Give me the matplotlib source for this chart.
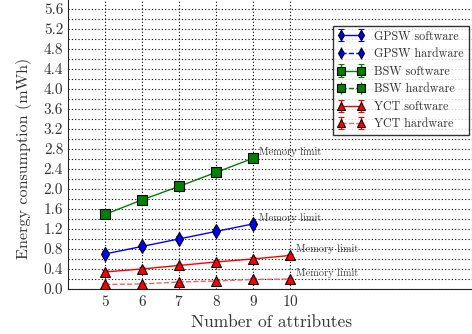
import matplotlib
matplotlib.use("Agg")
import matplotlib.pyplot as plt
from matplotlib.ticker import MultipleLocator, FormatStrFormatter

plt.rcParams['font.family'] = ['cmr10', 'DejaVu Serif']
plt.rcParams['mathtext.fontset'] = 'cm'
plt.rcParams['axes.formatter.use_mathtext'] = True

attributes = [5, 6, 7, 8, 9, 10]

gpsw_sw = [0.70, 0.85, 1.00, 1.15, 1.30]
gpsw_sw_err = [0.05, 0.05, 0.05, 0.05, 0.05]
gpsw_hw = []
gpsw_hw_err = []

bsw_sw = [1.49, 1.78, 2.05, 2.33, 2.61]
bsw_sw_err = [0.03, 0.03, 0.03, 0.03, 0.03]
bsw_hw = []
bsw_hw_err = []

yct_sw = [0.34, 0.40, 0.47, 0.54, 0.60, 0.67]
yct_sw_err = [0.03, 0.03, 0.03, 0.03, 0.03, 0.03]
yct_hw = [0.09, 0.10, 0.14, 0.16, 0.19, 0.20]
yct_hw_err = [0.02, 0.02, 0.02, 0.02, 0.02, 0.02]

annot_text = "Memory limit"

fig = plt.figure(figsize=(4.72, 3.34), dpi=100)
ax = fig.add_axes([68 / 472, 45 / 334, 407 / 472, 289 / 334 + 0.004])

def series(vals, errs, label, color, marker, ls, ms, lcolor=None):
    xs = attributes[:len(vals)]
    ax.errorbar(xs, vals, yerr=errs, label=label, color=lcolor or color,
                ecolor=color, marker=marker, linestyle=ls, markersize=ms,
                markerfacecolor=color, markeredgecolor='black',
                markeredgewidth=0.8, capsize=2.5, elinewidth=1.0,
                linewidth=1.0, zorder=3)

series(gpsw_sw, gpsw_sw_err, "GPSW software", 'blue', 'd', '-', 7)
series(gpsw_hw, gpsw_hw_err, "GPSW hardware", 'blue', 'd', '--', 7)
series(bsw_sw, bsw_sw_err, "BSW software", 'green', 's', '-', 6.5)
series(bsw_hw, bsw_hw_err, "BSW hardware", 'green', 's', '--', 6.5)
series(yct_sw, yct_sw_err, "YCT software", 'red', '^', '-', 6.5)
series(yct_hw, yct_hw_err, "YCT hardware", 'red', '^', '--', 6.5, '#ff6060')

# memory-limit notes at the last point each method could handle
for vals in (bsw_sw, gpsw_sw, yct_sw, yct_hw):
    x = attributes[len(vals) - 1]
    ax.annotate(annot_text, (x, vals[-1]), xytext=(4, 4.5),
                textcoords='offset points', fontsize=7.5, color='#444444',
                va='center', ha='left')

ax.set_xlim(4, 15)
ax.set_ylim(0, 5.8)
ax.set_xticks(attributes)
ax.yaxis.set_major_locator(MultipleLocator(0.4))
ax.yaxis.set_minor_locator(MultipleLocator(0.2))
ax.yaxis.set_major_formatter(FormatStrFormatter('%.1f'))
ax.grid(True, which='major', linestyle=(0, (1, 2)), color='black', linewidth=0.8)
ax.grid(True, which='minor', axis='y', linestyle=(0, (1, 2)), color='black',
        linewidth=0.8)
ax.tick_params(axis='both', which='major', labelsize=11, labelcolor='#333333',
               direction='in', length=0)
ax.tick_params(axis='both', which='minor', length=0)
for s in ax.spines.values():
    s.set_color('#222222')

ax.set_xlabel("Number of attributes", fontsize=12.5, color='#333333')
ax.set_ylabel("Energy consumption (mWh)", fontsize=11.6, color='#333333')
ax.yaxis.set_label_coords(-0.088, 0.45)

leg = ax.legend(loc='upper left', bbox_to_anchor=((333 - 68) / 407, 1 - 27 / 290),
                fontsize=8.7, frameon=True, fancybox=False, borderaxespad=0,
                handlelength=2.2, labelspacing=0.45, numpoints=2,
                markerscale=0.8)
leg.get_frame().set_edgecolor('black')
for t in leg.get_texts():
    t.set_color('#333333')

fig.savefig("out.png", dpi=100)
